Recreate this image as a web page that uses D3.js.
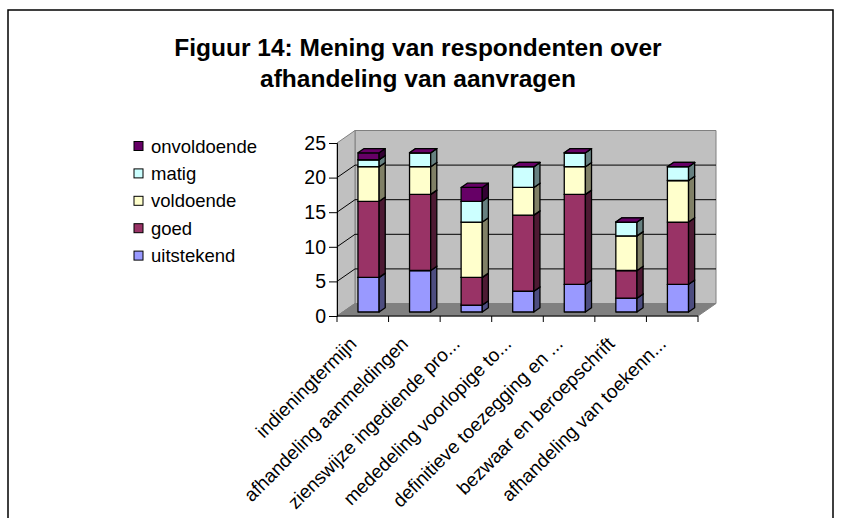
<!DOCTYPE html>
<html>
<head>
<meta charset="utf-8">
<script src="https://cdn.jsdelivr.net/npm/d3@7"></script>
<style>
  body { margin: 0; background: #fff; }
  text { font-family: "Liberation Sans", Arial, sans-serif; fill: #000; }
</style>
</head>
<body>
<div id="main"></div>
<script>
var categories = ['indieningtermijn', 'afhandeling aanmeldingen', 'zienswijze ingediende pro...',
  'mededeling voorlopige to...', 'definitieve toezegging en ...', 'bezwaar en beroepschrift',
  'afhandeling van toekenn...'];

var seriesNames = ['uitstekend', 'goed', 'voldoende', 'matig', 'onvoldoende'];

var uitstekend = [5, 6, 1, 3, 4, 2, 4];
var goed = [11, 11, 4, 11, 13, 4, 9];
var voldoende = [5, 4, 8, 4, 4, 5, 6];
var matig = [1, 2, 3, 3, 2, 2, 2];
var onvoldoende = [1, 0, 2, 0, 0, 0, 0];

var yTicks = [0, 5, 10, 15, 20, 25];

var frontColors = ['#9999ff', '#993366', '#ffffcc', '#ccffff', '#660066'];
var sideColors = ['#4d4d80', '#4d1a33', '#808066', '#668080', '#330033'];

function create_chart() {

  var width = 841, height = 518;

  var svg = d3.select('#main').append('svg').attr('width', width).attr('height', height);

  // outer chart border
  svg.append('path')
    .attr('d', 'M8,' + height + 'V10H833V' + height)
    .attr('fill', 'none').attr('stroke', '#000').attr('stroke-width', 1.5);

  svg.append('text').attr('x', 418).attr('y', 56).attr('text-anchor', 'middle')
    .attr('font-size', 24.5).attr('font-weight', 'bold')
    .text('Figuur 14: Mening van respondenten over');
  svg.append('text').attr('x', 418).attr('y', 87).attr('text-anchor', 'middle')
    .attr('font-size', 24.5).attr('font-weight', 'bold')
    .text('afhandeling van aanvragen');

  var x = d3.scaleBand().domain(categories).range([337, 698]);
  var y = d3.scaleLinear().domain([0, 25]).range([316, 143]);

  var dx = 18, dy = -12.5;

  var x0 = x.range()[0], x1 = x.range()[1];
  var yb = y(0), yt = y(25);

  // walls and floor
  svg.append('polygon')
    .attr('points', [[x0 + dx, yb + dy], [x1 + dx, yb + dy], [x1 + dx, yt + dy], [x0 + dx, yt + dy]].join(' '))
    .attr('fill', '#c0c0c0').attr('stroke', '#808080');
  svg.append('polygon')
    .attr('points', [[x0, yb], [x0 + dx, yb + dy], [x0 + dx, yt + dy], [x0, yt]].join(' '))
    .attr('fill', '#c0c0c0').attr('stroke', '#808080');
  svg.append('polygon')
    .attr('points', [[x0, yb], [x1, yb], [x1 + dx, yb + dy], [x0 + dx, yb + dy]].join(' '))
    .attr('fill', '#808080').attr('stroke', '#808080');

  var grid = yTicks.filter(function (d) { return d > 0 && d < 25; });

  svg.selectAll('.grid')
    .data(grid)
    .enter()
    .append('path')
    .attr('class', 'grid')
    .attr('fill', 'none').attr('stroke', '#000')
    .attr('d', function (d) {
      return 'M' + x0 + ',' + y(d) + 'L' + (x0 + dx) + ',' + (y(d) + dy) + 'H' + (x1 + dx);
    });

  var yAxis = svg.append('g').attr('transform', 'translate(' + x0 + ',0)')
    .call(d3.axisLeft(y).tickValues(yTicks).tickSize(8).tickPadding(3));
  yAxis.selectAll('text').attr('font-size', 19.5).style('font-family', '"Liberation Sans", Arial, sans-serif');
  yAxis.selectAll('line, path').attr('stroke', '#000');

  var xAxis = svg.append('g').attr('transform', 'translate(0,' + yb + ')');
  xAxis.append('line').attr('x1', x0).attr('x2', x1).attr('stroke', '#000');
  xAxis.selectAll('.tick')
    .data(d3.range(categories.length + 1))
    .enter()
    .append('line')
    .attr('x1', function (i) { return x0 + i * x.bandwidth(); })
    .attr('x2', function (i) { return x0 + i * x.bandwidth(); })
    .attr('y2', 6).attr('stroke', '#000');

  xAxis.selectAll('.lab')
    .data(categories)
    .enter()
    .append('text')
    .attr('font-size', 19)
    .attr('text-anchor', 'end')
    .attr('transform', function (d) {
      return 'translate(' + (x(d) + x.bandwidth() / 2 - 5) + ',29) rotate(-45)';
    })
    .text(function (d) { return d; });

  // stacked 3D bars
  var table = categories.map(function (c, i) {
    return {cat: c, uitstekend: uitstekend[i], goed: goed[i], voldoende: voldoende[i], matig: matig[i], onvoldoende: onvoldoende[i]};
  });
  var stack = d3.stack().keys(seriesNames)(table);

  var barW = x.bandwidth() * 0.41;
  var f0 = 0.32, f1 = 0.66;
  var bdx = dx * (f1 - f0), bdy = dy * (f1 - f0);

  categories.forEach(function (c, i) {

    var left = x(c) + (x.bandwidth() - barW) / 2 + dx * f0;

    stack.forEach(function (s, k) {

      var lo = y(s[i][0]) + dy * f0;
      var hi = y(s[i][1]) + dy * f0;
      var g = svg.append('g').attr('stroke', '#000').attr('stroke-width', 1.3).attr('stroke-linejoin', 'round');

      g.append('polygon')
        .attr('points', [[left, lo], [left + barW, lo], [left + barW, hi], [left, hi]].join(' '))
        .attr('fill', frontColors[k]);
      g.append('polygon')
        .attr('points', [[left + barW, lo], [left + barW + bdx, lo + bdy], [left + barW + bdx, hi + bdy], [left + barW, hi]].join(' '))
        .attr('fill', sideColors[k]);
      g.append('polygon')
        .attr('points', [[left, hi], [left + barW, hi], [left + barW + bdx, hi + bdy], [left + bdx, hi + bdy]].join(' '))
        .attr('fill', frontColors[k]);
    });
  });

  // legend
  var legend = svg.selectAll('.legend')
    .data(seriesNames.slice().reverse())
    .enter()
    .append('g')
    .attr('transform', function (d, i) { return 'translate(134,' + (146 + i * 27.4) + ')'; });

  legend.append('rect')
    .attr('x', 0).attr('y', -4.5).attr('width', 9).attr('height', 9)
    .attr('fill', function (d) { return frontColors[seriesNames.indexOf(d)]; })
    .attr('stroke', '#000');

  legend.append('text')
    .attr('x', 17).attr('y', 6.5).attr('font-size', 18.5)
    .text(function (d) { return d; });
}

create_chart();
</script>
</body>
</html>
